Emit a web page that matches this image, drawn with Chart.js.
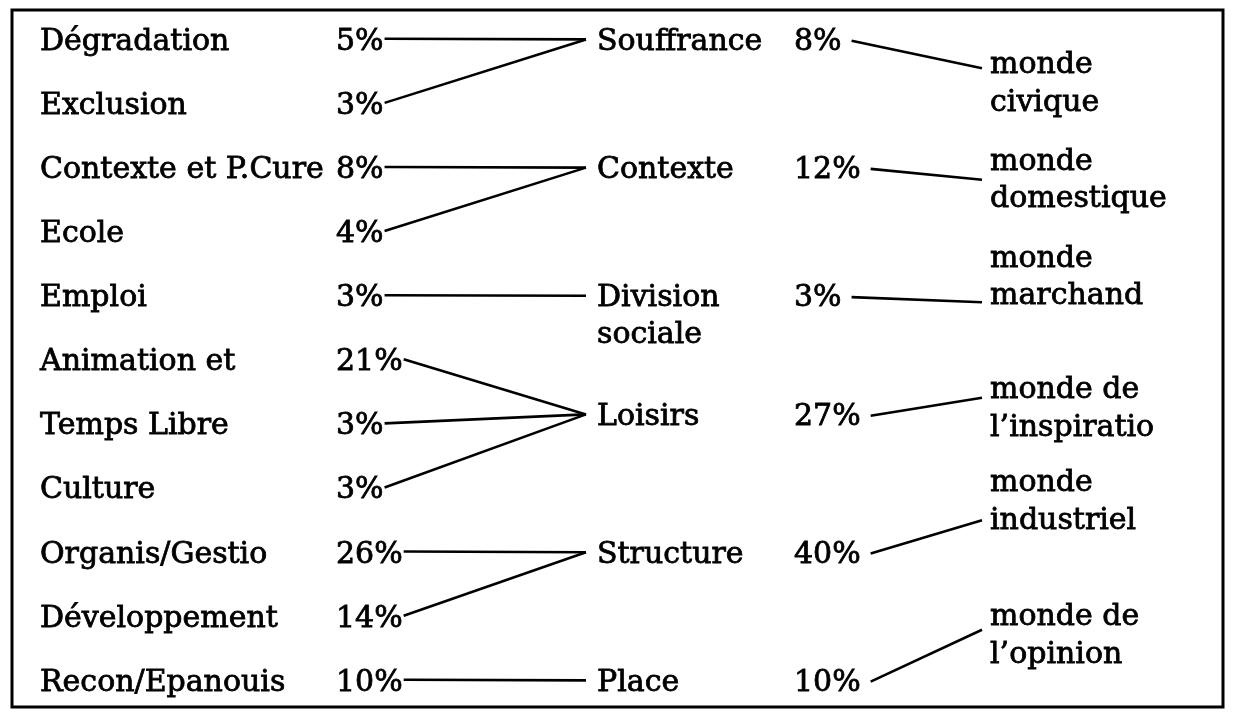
<!DOCTYPE html>
<html>
<head>
<meta charset="utf-8">
<script src="https://cdn.jsdelivr.net/npm/chart.js@4"></script>
<style>
  html, body { margin: 0; padding: 0; background: #fff; }
  canvas { display: block; }
</style>
</head>
<body>
<canvas id="chart" width="1235" height="719"></canvas>
<script>
// data
const leftLabels = ['Dégradation', 'Exclusion', 'Contexte et P.Cure', 'Ecole', 'Emploi', 'Animation et',
  'Temps Libre', 'Culture', 'Organis/Gestio', 'Développement', 'Recon/Epanouis'];
const leftValues = [5, 3, 8, 4, 3, 21, 3, 3, 26, 14, 10];
const leftGroup = [0, 0, 1, 1, 2, 3, 3, 3, 4, 4, 5];      // which theme each item feeds

const themeLabels = [['Souffrance'], ['Contexte'], ['Division', 'sociale'], ['Loisirs'], ['Structure'], ['Place']];
const themeValues = [8, 12, 3, 27, 40, 10];
const themeRows = [0, 2, 4, 5.85, 8, 10];

const worldLabels = [['monde', 'civique'], ['monde', 'domestique'], ['monde', 'marchand'],
  ['monde de', 'l\u2019inspiratio'], ['monde', 'industriel'], ['monde de', 'l\u2019opinion']];
const worldRows = [0.66, 2.17, 3.68, 5.73, 7.18, 9.27];
const worldAnchor = [0.41, 2.15, 4.06, 5.55, 7.46, 9.17];  // where the connector meets the label

// layout (x in px, y in rows)
const FONT = '30px "DejaVu Serif"';
const COL = { label: 40, pct: 336, node: 586, theme: 597, themePct: 794, world: 990, worldLine: 982 };
const LINE_H = 0.58;  // row units between two text lines

const measure = document.createElement('canvas').getContext('2d');
measure.font = FONT;
const pct = v => v + '%';
const w = s => measure.measureText(s).width;

// connector datasets
const datasets = [];
leftLabels.forEach((lab, i) => {
  const g = leftGroup[i];
  datasets.push({
    data: [{ x: COL.pct + w(pct(leftValues[i])) + 1, y: i - 0.05 }, { x: COL.node, y: themeRows[g] - 0.04 }]
  });
});
themeLabels.forEach((lab, i) => {
  datasets.push({
    data: [{ x: COL.themePct + w(pct(themeValues[i])) + 10, y: themeRows[i] - 0.02 }, { x: COL.worldLine, y: worldAnchor[i] }]
  });
});
datasets.forEach(d => Object.assign(d, {
  showLine: true, borderColor: '#000', borderWidth: 2.6, pointRadius: 0, fill: false, tension: 0
}));

// labels + frame
const textPlugin = {
  id: 'diagramText',
  beforeDraw(chart){
    const c = chart.ctx;
    c.save();
    c.fillStyle = '#fff';
    c.fillRect(0, 0, chart.width, chart.height);
    c.strokeStyle = '#000';
    c.lineWidth = 3;
    c.strokeRect(12, 10, chart.width - 24, chart.height - 22);
    c.restore();
  },
  afterDatasetsDraw(chart){
    const c = chart.ctx;
    const xs = chart.scales.x, ys = chart.scales.y;
    c.save();
    c.font = FONT;
    c.fillStyle = '#000';
    c.strokeStyle = '#000';
    c.lineWidth = 0.8;
    c.textBaseline = 'middle';
    c.textAlign = 'left';
    const put = (s, x, row) => {
      const px = xs.getPixelForValue(x), py = ys.getPixelForValue(row);
      c.fillText(s, px, py);
      c.strokeText(s, px, py);   // scanned print looks heavier
    };

    leftLabels.forEach((lab, i) => {
      put(lab, COL.label, i);
      put(pct(leftValues[i]), COL.pct, i);
    });
    themeLabels.forEach((lines, i) => {
      lines.forEach((s, k) => put(s, COL.theme, themeRows[i] + k * LINE_H));
      put(pct(themeValues[i]), COL.themePct, themeRows[i]);
    });
    worldLabels.forEach((lines, i) => {
      const top = worldRows[i] - (lines.length - 1) * LINE_H / 2;
      lines.forEach((s, k) => put(s, COL.world, top + k * LINE_H));
    });
    c.restore();
  }
};

new Chart(document.getElementById('chart'), {
  type: 'scatter',
  data: { datasets },
  options: {
    responsive: false,
    animation: false,
    layout: { padding: 0 },
    scales: {
      x: { type: 'linear', min: 0, max: 1235, display: false },
      y: { type: 'linear', min: -0.655, max: 10.562, reverse: true, display: false }
    },
    plugins: { legend: { display: false }, tooltip: { enabled: false } }
  },
  plugins: [textPlugin]
});
</script>
</body>
</html>
